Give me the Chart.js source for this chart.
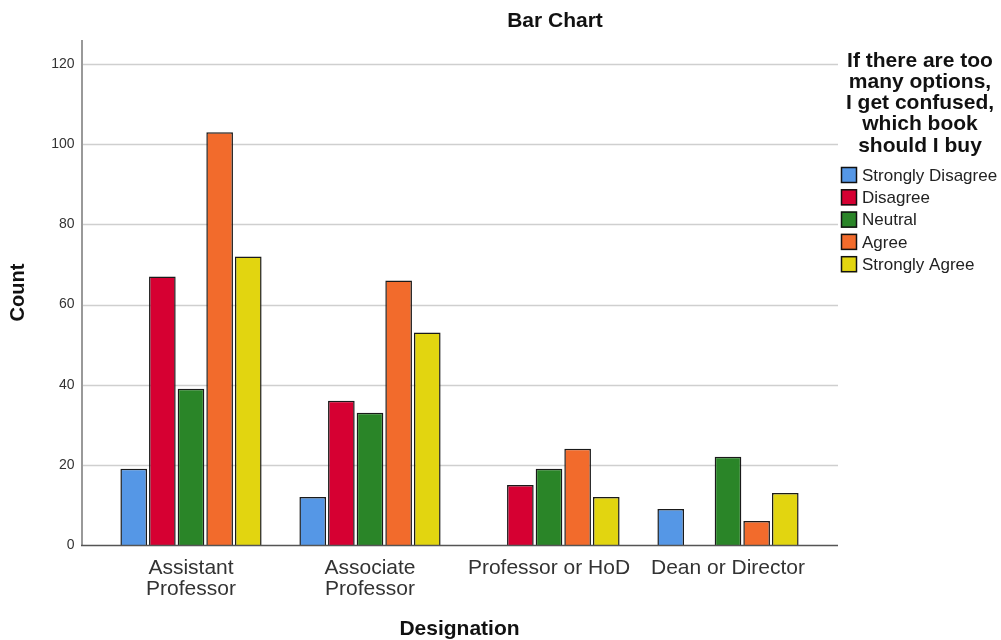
<!DOCTYPE html>
<html>
<head>
<meta charset="utf-8">
<title>Bar Chart</title>
<script src="https://cdn.jsdelivr.net/npm/chart.js@4"></script>
<style>
  body { margin: 0; background: #fff; }
  canvas { display: block; }
</style>
</head>
<body>
<canvas id="myChart" width="1001" height="640"></canvas>
<script>
const categories = [["Assistant", "Professor"], ["Associate", "Professor"], "Professor or HoD", "Dean or Director"];
const responses = ["Strongly Disagree", "Disagree", "Neutral", "Agree", "Strongly Agree"];
const stronglyDisagree = [19, 12, null, 9];
const disagree = [67, 36, 15, null];
const neutral = [39, 33, 19, 22];
const agree = [103, 66, 24, 6];
const stronglyAgree = [72, 53, 12, 13];
const yTicks = [0, 20, 40, 60, 80, 100, 120];
const legendTitle = ["If there are too", "many options,", "I get confused,", "which book", "should I buy"];

const FONT = "'Liberation Sans', Arial, sans-serif";
const barColors = ["#5597e6", "#d60032", "#2a8528", "#f26b2c", "#e2d510"];
const seriesValues = [stronglyDisagree, disagree, neutral, agree, stronglyAgree];

// gridlines + axes run a bit past the bar area, like the SPSS output
const frame = {
  id: "frame",
  beforeDatasetsDraw(chart) {
    const ctx = chart.ctx;
    const { left, right, top, bottom } = chart.chartArea;
    const y = chart.scales.y;
    ctx.save();
    ctx.strokeStyle = "#cfcfcf";
    ctx.lineWidth = 1.5;
    y.ticks.forEach((t) => {
      if (t.value === 0) return;
      const py = Math.round(y.getPixelForValue(t.value)) + 0.5;
      ctx.beginPath();
      ctx.moveTo(left - 19.5, py);
      ctx.lineTo(right + 20.5, py);
      ctx.stroke();
    });
    ctx.strokeStyle = "#999";
    ctx.lineWidth = 2;
    ctx.beginPath();
    ctx.moveTo(left - 19.5, top);
    ctx.lineTo(left - 19.5, bottom);
    ctx.stroke();
    ctx.restore();
  },
  afterDatasetsDraw(chart) {
    const ctx = chart.ctx;
    const { left, right, bottom } = chart.chartArea;
    ctx.save();
    ctx.strokeStyle = "#555";
    ctx.lineWidth = 1.5;
    ctx.beginPath();
    ctx.moveTo(left - 20.5, bottom + 0.5);
    ctx.lineTo(right + 20.5, bottom + 0.5);
    ctx.stroke();
    ctx.restore();
  },
  afterDraw(chart) {
    const ctx = chart.ctx;
    ctx.save();
    ctx.fillStyle = "#111";
    ctx.textAlign = "center";
    ctx.textBaseline = "middle";
    ctx.font = "bold 21px " + FONT;
    ctx.fillText("Bar Chart", 555, 21);

    // legend
    legendTitle.forEach((line, i) => {
      ctx.fillText(line, 920, 61 + i * 21.2);
    });
    ctx.textAlign = "left";
    ctx.font = "17px " + FONT;
    chart.data.datasets.forEach((ds, i) => {
      const cy = 175 + i * 22.3;
      ctx.fillStyle = ds.backgroundColor;
      ctx.fillRect(841, cy - 8, 16, 16);
      ctx.strokeStyle = "#111";
      ctx.lineWidth = 1.5;
      ctx.strokeRect(841.5, cy - 7.5, 15, 15);
      ctx.fillStyle = "#222";
      ctx.fillText(ds.label, 862, cy + 1);
    });
    ctx.restore();
  },
};

new Chart("myChart", {
  type: "bar",
  data: {
    labels: categories,
    datasets: responses.map((r, i) => ({
      label: r,
      data: seriesValues[i],
      backgroundColor: barColors[i],
      borderColor: "#1a1a1a",
      borderWidth: 1.5,
      categoryPercentage: 0.8,
      barPercentage: 0.93,
    })),
  },
  options: {
    responsive: false,
    animation: false,
    layout: { padding: { left: 0, right: 183.5, top: 40, bottom: 0 } },
    plugins: {
      legend: { display: false },
      title: { display: false },
      tooltip: { enabled: false },
    },
    scales: {
      x: {
        grid: { display: false, drawTicks: false },
        border: { display: false },
        ticks: {
          color: "#333",
          padding: 13,
          maxRotation: 0,
          autoSkip: false,
          font: { family: FONT, size: 21, lineHeight: 1 },
        },
        title: {
          display: true,
          text: "Designation",
          color: "#111",
          font: { family: FONT, size: 21, weight: "bold", lineHeight: 1 },
          padding: { top: 0, bottom: 0 },
        },
        afterFit(scale) {
          scale.height = 95;
        },
      },
      y: {
        min: 0,
        max: 126,
        grid: { display: false, drawTicks: false },
        border: { display: false },
        ticks: {
          color: "#333",
          padding: 27,
          font: { family: FONT, size: 14 },
        },
        afterBuildTicks(scale) {
          scale.ticks = yTicks.map((v) => ({ value: v }));
        },
        title: {
          display: true,
          text: "Count",
          color: "#111",
          font: { family: FONT, size: 20, weight: "bold", lineHeight: 1 },
          padding: { top: 8, bottom: 0 },
        },
        afterFit(scale) {
          scale.width = 101.5;
        },
      },
    },
  },
  plugins: [frame],
});
</script>
</body>
</html>
